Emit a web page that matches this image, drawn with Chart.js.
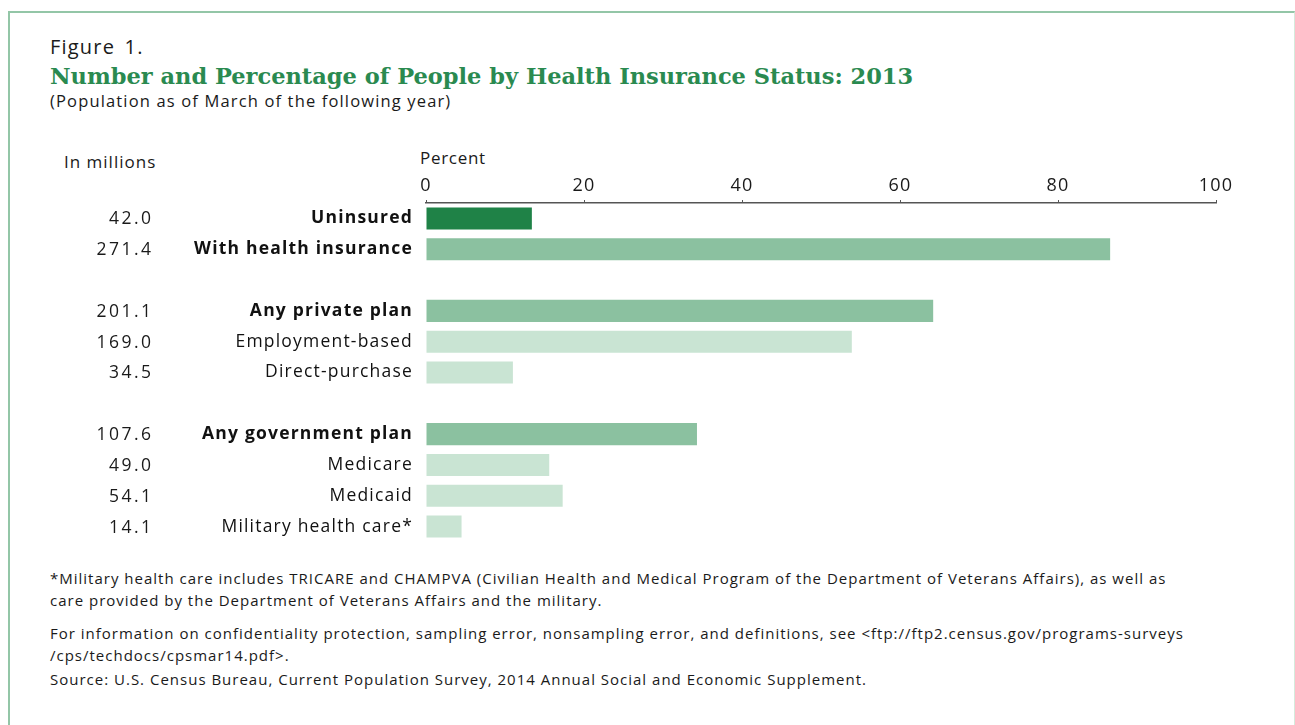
<!DOCTYPE html>
<html>
<head>
<meta charset="utf-8">
<title>Health Insurance Status 2013</title>
<script src="https://cdn.jsdelivr.net/npm/chart.js@4"></script>
<style>
  html, body { margin: 0; padding: 0; background: #fff; }
  body { width: 1295px; height: 725px; position: relative; overflow: hidden;
         font-family: 'Open Sans', sans-serif; color: #1a1a1a; }
  .frame { position: absolute; left: 8px; top: 11px; width: 1287px; height: 760px;
           border: 2px solid #93c6a7; border-right: 1px solid #d5eadc; box-sizing: border-box; }
  .fig { position: absolute; left: 50px; top: 33px; font-size: 20px; letter-spacing: 1.2px; word-spacing: 3px; }
  .title { position: absolute; left: 50px; top: 63px; font-family: 'DejaVu Serif', serif;
           font-weight: bold; font-size: 22.5px; color: #2a8a50; white-space: nowrap; }
  .sub { position: absolute; left: 50px; top: 89px; font-size: 16.5px; letter-spacing: 1.15px; }
  .inmil { position: absolute; left: 64px; top: 150px; font-size: 17px; letter-spacing: 1px; }
  .pct { position: absolute; left: 420px; top: 146px; font-size: 17px; letter-spacing: 0.7px; }
  .notes { position: absolute; left: 50px; top: 567px; font-size: 15px; line-height: 22px;
           letter-spacing: 1px; white-space: nowrap; }
  .notes p { margin: 0; }
  .notes .gap1 { margin-top: 11px; }
  .notes .gap2 { margin-top: 2px; }
  #wrap { position: absolute; left: 0; top: 140px; width: 1295px; height: 402px; }
</style>
</head>
<body>
<div class="frame"></div>
<div class="fig">Figure 1.</div>
<div class="title">Number and Percentage of People by Health Insurance Status: 2013</div>
<div class="sub">(Population as of March of the following year)</div>
<div class="inmil">In millions</div>
<div class="pct">Percent</div>
<div id="wrap"><canvas id="chart"></canvas></div>
<div class="notes">
  <p>*Military health care includes TRICARE and CHAMPVA (Civilian Health and Medical Program of the Department of Veterans Affairs), as well as<br>care provided by the Department of Veterans Affairs and the military.</p>
  <p class="gap1">For information on confidentiality protection, sampling error, nonsampling error, and definitions, see &lt;ftp://ftp2.census.gov/programs-surveys<br>/cps/techdocs/cpsmar14.pdf&gt;.</p>
  <p class="gap2">Source: U.S. Census Bureau, Current Population Survey, 2014 Annual Social and Economic Supplement.</p>
</div>

<script>
// ── Data ─────────────────────────────────────
// blank entries are spacer rows between the groups
const categories = ['Uninsured', 'With health insurance', '',
  'Any private plan', 'Employment-based', 'Direct-purchase', '',
  'Any government plan', 'Medicare', 'Medicaid', 'Military health care*'];
const percent  = [13.4, 86.6, null, 64.2, 53.9, 11.0, null, 34.3, 15.6, 17.3, 4.5];
const millions = ['42.0', '271.4', '', '201.1', '169.0', '34.5', '', '107.6', '49.0', '54.1', '14.1'];
const rowKind  = ['uninsured', 'total', '', 'group', 'item', 'item', '', 'group', 'item', 'item', 'item'];
const xTicks   = [0, 20, 40, 60, 80, 100];

// ── Styles ───────────────────────────────────
const FONT = "'Open Sans', sans-serif";
const kindColor = { uninsured: '#1f8247', total: '#8bc1a0', group: '#8bc1a0', item: '#c9e4d3' };
const isBold = k => k === 'uninsured' || k === 'total' || k === 'group';

// loose tracking on all canvas text
const tracking = {
  id: 'tracking',
  beforeDraw(chart) { chart.ctx.letterSpacing = '1.2px'; }
};

// millions column, right aligned on its own edge left of the labels
const millionsColumn = {
  id: 'millionsColumn',
  afterDraw(chart) {
    const { ctx, scales: { y } } = chart;
    const sp = 2.5;
    ctx.save();
    ctx.letterSpacing = sp + 'px';
    ctx.font = `17.5px ${FONT}`;
    ctx.fillStyle = '#1a1a1a';
    ctx.textAlign = 'right';
    ctx.textBaseline = 'middle';
    millions.forEach((m, i) => {
      if (m) ctx.fillText(m, 151 + sp, y.getPixelForValue(i) + 1);
    });
    ctx.restore();
  }
};

new Chart(document.getElementById('chart'), {
  type: 'bar',
  data: {
    labels: categories,
    datasets: [{
      data: percent,
      backgroundColor: rowKind.map(k => kindColor[k] || 'transparent'),
      borderWidth: 0,
      barPercentage: 0.716,
      categoryPercentage: 1
    }]
  },
  options: {
    indexAxis: 'y',
    responsive: true,
    maintainAspectRatio: false,
    animation: false,
    layout: { padding: { left: 0, right: 79, top: 0, bottom: 0 } },
    plugins: { legend: { display: false }, tooltip: { enabled: false } },
    scales: {
      x: {
        position: 'top',
        min: 0, max: 100,
        afterBuildTicks: s => { s.ticks = xTicks.map(v => ({ value: v })); },
        afterFit: s => { s.height = 63; },
        grid: { drawOnChartArea: false, drawTicks: true, tickLength: 3, color: '#555', lineWidth: 1 },
        border: { display: true, color: '#555', width: 1.5 },
        ticks: { color: '#1a1a1a', font: { family: FONT, size: 18 }, padding: 3, maxRotation: 0 }
      },
      y: {
        afterFit: s => { s.width = 426; s.paddingTop = 0; s.paddingBottom = 0; },
        grid: { display: false, drawTicks: false },
        border: { display: false },
        ticks: {
          color: '#111',
          padding: 13,
          font: c => ({ family: FONT, size: 17.5, weight: isBold(rowKind[c.index]) ? 'bold' : 'normal' })
        }
      }
    }
  },
  plugins: [tracking, millionsColumn]
});
</script>
</body>
</html>
